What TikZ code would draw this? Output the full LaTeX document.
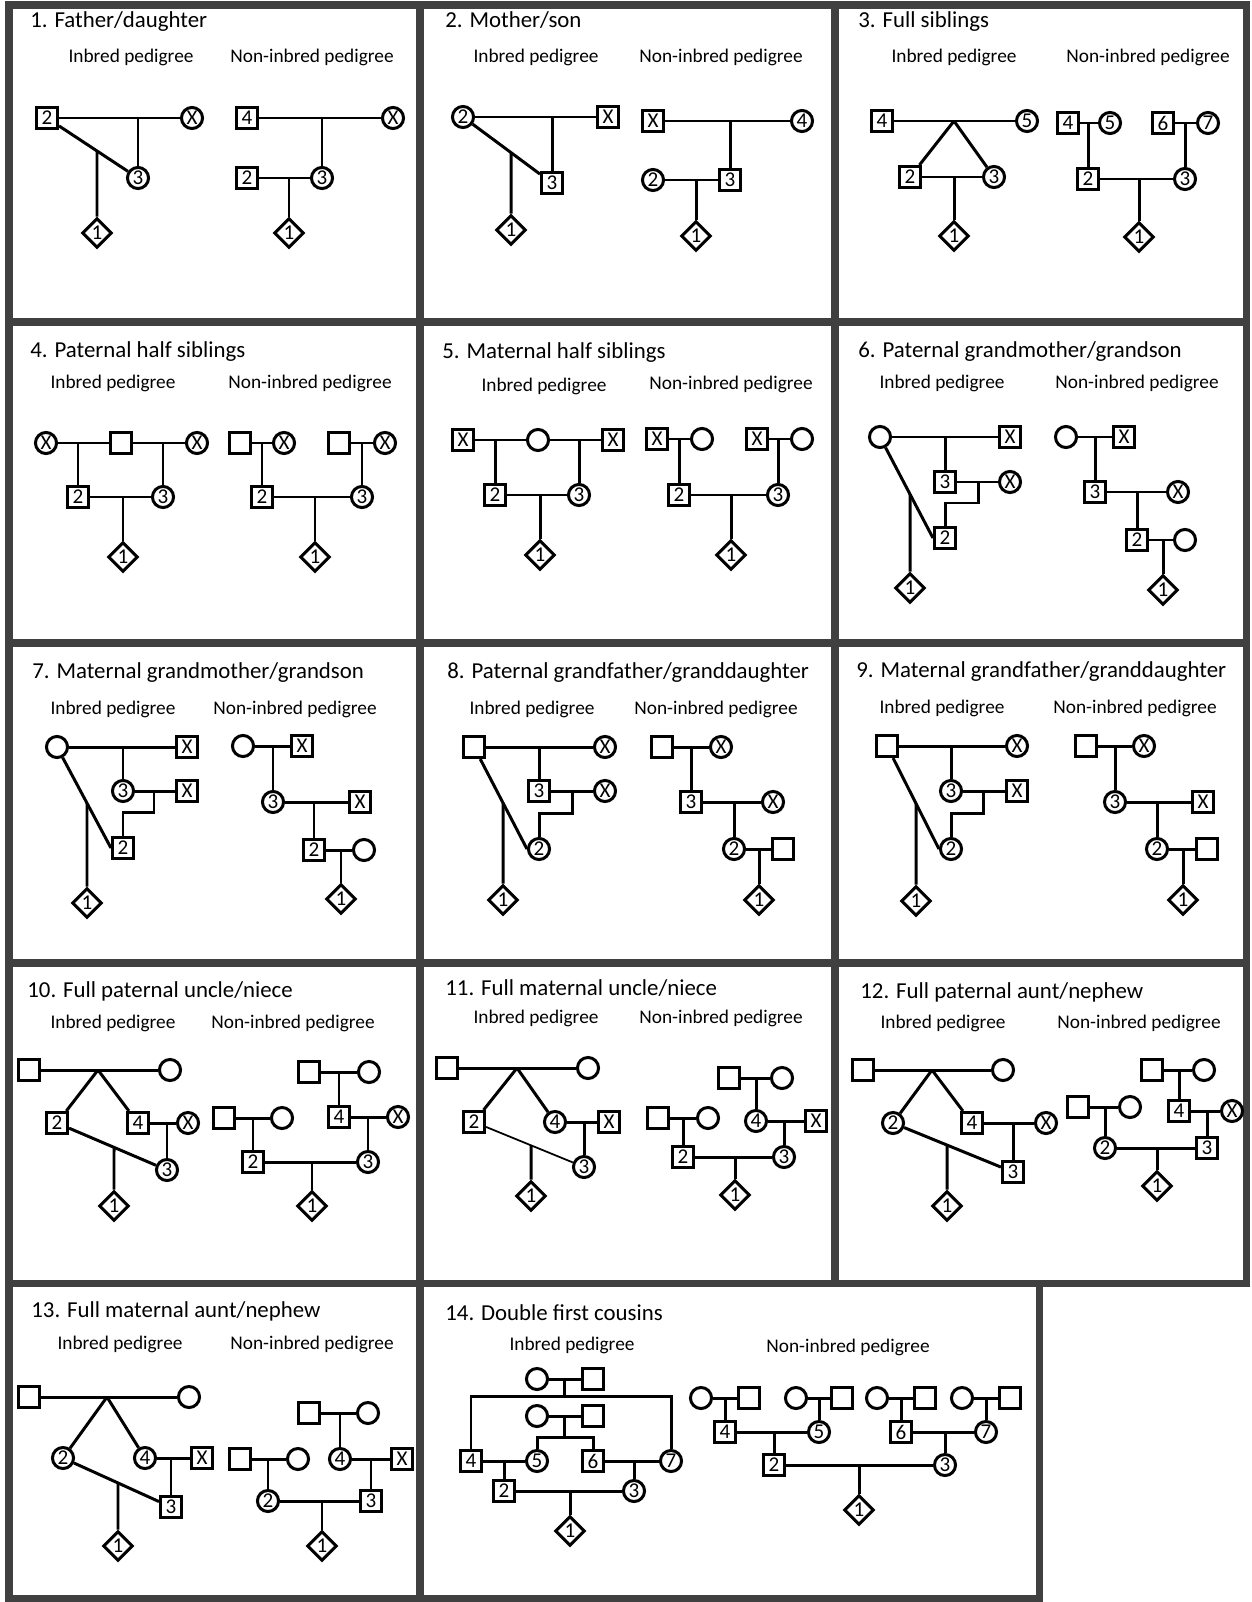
\documentclass[tikz,border=0pt]{standalone}
\usepackage{fontspec}
\setmainfont{Carlito}
\usetikzlibrary{shapes.geometric}
\tikzset{
  ind/.style={draw, line width=1.7pt, inner sep=0pt, minimum size=12pt, font=\fontsize{12}{13}\selectfont},
  male/.style={ind, rectangle},
  female/.style={ind, circle},
  proband/.style={ind, diamond, aspect=1, minimum width=17pt, minimum height=17pt},
  link/.style={line width=1.7pt},
  panel/.style={draw=black!75, line width=4pt},
  title/.style={inner sep=0pt, anchor=base west, font=\fontsize{13}{15}\selectfont},
  sub/.style={inner sep=0pt, anchor=base, font=\fontsize{11}{13}\selectfont},
}
\begin{document}
\begin{tikzpicture}[x=0.02cm, y=-0.02cm]
	\useasboundingbox (0,0) rectangle (1251,1602);
	% Рамки
	\draw[panel] (9,5) rectangle (420,322);
	\draw[panel] (420,5) rectangle (835,322);
	\draw[panel] (835,5) rectangle (1246,322);
	\draw[panel] (9,322) rectangle (420,643);
	\draw[panel] (420,322) rectangle (835,643);
	\draw[panel] (835,322) rectangle (1246,643);
	\draw[panel] (9,643) rectangle (420,963);
	\draw[panel] (420,643) rectangle (835,963);
	\draw[panel] (835,643) rectangle (1246,963);
	\draw[panel] (9,963) rectangle (420,1283);
	\draw[panel] (420,963) rectangle (835,1283);
	\draw[panel] (835,963) rectangle (1246,1283);
	\draw[panel] (9,1283) rectangle (420,1598);
	\draw[panel] (420,1283) rectangle (1039,1598);
	
	% 1
	\node[title] (t1) at (30,28) {1. Father/daughter};
	\node[sub] (s1a) at (131,63) {Inbred pedigree};
	\node[sub] (s1b) at (312,63) {Non-inbred pedigree};
	\node[male] (p1a2) at (47,118) {2};
	\node[female] (p1ax) at (192,118) {X};
	\node[female] (p1a3) at (138,178) {3};
	\node[proband] (p1a1) at (97,233) {1};
	\coordinate (p1am) at (138,118);
	\coordinate (p1aj) at (intersection of p1a2--p1a3 and 97,0--97,1);
	\draw[link] (p1a2) -- (p1ax);
	\draw[link] (p1am) -- (p1a3);
	\draw[link] (p1a2) -- (p1a3);
	\draw[link] (p1aj) -- (p1a1);
	\node[male] (p1b4) at (247,118) {4};
	\node[female] (p1bx) at (393,118) {X};
	\node[female] (p1b3) at (322,178) {3};
	\node[male] (p1b2) at (247,178) {2};
	\node[proband] (p1b1) at (289,233) {1};
	\coordinate (p1bm1) at (322,118);
	\coordinate (p1bm2) at (289,178);
	\draw[link] (p1b4) -- (p1bx);
	\draw[link] (p1bm1) -- (p1b3);
	\draw[link] (p1b2) -- (p1b3);
	\draw[link] (p1bm2) -- (p1b1);
	
	% 2
	\node[title] (t2) at (445,28) {2. Mother/son};
	\node[sub] (s2a) at (536,63) {Inbred pedigree};
	\node[sub] (s2b) at (721,63) {Non-inbred pedigree};
	\node[female] (p2a2) at (463,117) {2};
	\node[male] (p2ax) at (608,117) {X};
	\node[male] (p2a3) at (552,183) {3};
	\node[proband] (p2a1) at (511,230) {1};
	\coordinate (p2am) at (552,117);
	\coordinate (p2aj) at (intersection of p2a2--p2a3 and 511,0--511,1);
	\draw[link] (p2a2) -- (p2ax);
	\draw[link] (p2am) -- (p2a3);
	\draw[link] (p2a2) -- (p2a3);
	\draw[link] (p2aj) -- (p2a1);
	\node[male] (p2bx) at (653,121) {X};
	\node[female] (p2b4) at (802,121) {4};
	\node[male] (p2b3) at (730,180) {3};
	\node[female] (p2b2) at (653,180) {2};
	\node[proband] (p2b1) at (696,236) {1};
	\coordinate (p2bm1) at (730,121);
	\coordinate (p2bm2) at (696,180);
	\draw[link] (p2bx) -- (p2b4);
	\draw[link] (p2bm1) -- (p2b3);
	\draw[link] (p2b2) -- (p2b3);
	\draw[link] (p2bm2) -- (p2b1);
	
	% 3
	\node[title] (t3) at (858,28) {3. Full siblings};
	\node[sub] (s3a) at (954,63) {Inbred pedigree};
	\node[sub] (s3b) at (1148,63) {Non-inbred pedigree};
	\node[male] (p3a4) at (882,121) {4};
	\node[female] (p3a5) at (1027,121) {5};
	\node[male] (p3a2) at (910,177) {2};
	\node[female] (p3a3) at (994,177) {3};
	\node[proband] (p3a1) at (954,236) {1};
	\coordinate (p3am1) at (954,121);
	\coordinate (p3am2) at (954,177);
	\draw[link] (p3a4) -- (p3a5);
	\draw[link] (p3am1) -- (p3a2);
	\draw[link] (p3am1) -- (p3a3);
	\draw[link] (p3a2) -- (p3a3);
	\draw[link] (p3am2) -- (p3a1);
	\node[male] (p3b4) at (1068,123) {4};
	\node[female] (p3b5) at (1110,123) {5};
	\node[male] (p3b6) at (1163,123) {6};
	\node[female] (p3b7) at (1208,123) {7};
	\node[male] (p3b2) at (1088,179) {2};
	\node[female] (p3b3) at (1185,179) {3};
	\node[proband] (p3b1) at (1139,237) {1};
	\coordinate (p3bm1) at (1088,123);
	\coordinate (p3bm2) at (1185,123);
	\coordinate (p3bm3) at (1139,179);
	\draw[link] (p3b4) -- (p3b5);
	\draw[link] (p3b6) -- (p3b7);
	\draw[link] (p3bm1) -- (p3b2);
	\draw[link] (p3bm2) -- (p3b3);
	\draw[link] (p3b2) -- (p3b3);
	\draw[link] (p3bm3) -- (p3b1);
	
	% 4
	\node[title] (t4) at (30,357) {4. Paternal half siblings};
	\node[sub] (s4a) at (113,388) {Inbred pedigree};
	\node[sub] (s4b) at (310,388) {Non-inbred pedigree};
	\node[female] (p4ax1) at (46,443) {X};
	\node[male] (p4ap) at (121,443) {};
	\node[female] (p4ax2) at (197,443) {X};
	\node[male] (p4a2) at (78,497) {2};
	\node[female] (p4a3) at (163,497) {3};
	\node[proband] (p4a1) at (123,557) {1};
	\coordinate (p4am1) at (78,443);
	\coordinate (p4am2) at (163,443);
	\coordinate (p4am3) at (123,497);
	\draw[link] (p4ax1) -- (p4ap);
	\draw[link] (p4ap) -- (p4ax2);
	\draw[link] (p4am1) -- (p4a2);
	\draw[link] (p4am2) -- (p4a3);
	\draw[link] (p4a2) -- (p4a3);
	\draw[link] (p4am3) -- (p4a1);
	\node[male] (p4bp1) at (240,443) {};
	\node[female] (p4bx1) at (284,443) {X};
	\node[male] (p4bp2) at (339,443) {};
	\node[female] (p4bx2) at (385,443) {X};
	\node[male] (p4b2) at (262,497) {2};
	\node[female] (p4b3) at (362,497) {3};
	\node[proband] (p4b1) at (315,557) {1};
	\coordinate (p4bm1) at (262,443);
	\coordinate (p4bm2) at (362,443);
	\coordinate (p4bm3) at (315,497);
	\draw[link] (p4bp1) -- (p4bx1);
	\draw[link] (p4bp2) -- (p4bx2);
	\draw[link] (p4bm1) -- (p4b2);
	\draw[link] (p4bm2) -- (p4b3);
	\draw[link] (p4b2) -- (p4b3);
	\draw[link] (p4bm3) -- (p4b1);
	
	% 5
	\node[title] (t5) at (442,358) {5. Maternal half siblings};
	\node[sub] (s5a) at (544,391) {Inbred pedigree};
	\node[sub] (s5b) at (731,389) {Non-inbred pedigree};
	\node[male] (p5ax1) at (463,440) {X};
	\node[female] (p5ap) at (538,440) {};
	\node[male] (p5ax2) at (613,440) {X};
	\node[male] (p5a2) at (495,495) {2};
	\node[female] (p5a3) at (579,495) {3};
	\node[proband] (p5a1) at (540,555) {1};
	\coordinate (p5am1) at (495,440);
	\coordinate (p5am2) at (579,440);
	\coordinate (p5am3) at (540,495);
	\draw[link] (p5ax1) -- (p5ap);
	\draw[link] (p5ap) -- (p5ax2);
	\draw[link] (p5am1) -- (p5a2);
	\draw[link] (p5am2) -- (p5a3);
	\draw[link] (p5a2) -- (p5a3);
	\draw[link] (p5am3) -- (p5a1);
	\node[male] (p5bx1) at (657,439) {X};
	\node[female] (p5bp1) at (702,439) {};
	\node[male] (p5bx2) at (757,439) {X};
	\node[female] (p5bp2) at (802,439) {};
	\node[male] (p5b2) at (679,495) {2};
	\node[female] (p5b3) at (778,495) {3};
	\node[proband] (p5b1) at (731,555) {1};
	\coordinate (p5bm1) at (679,439);
	\coordinate (p5bm2) at (778,439);
	\coordinate (p5bm3) at (731,495);
	\draw[link] (p5bx1) -- (p5bp1);
	\draw[link] (p5bx2) -- (p5bp2);
	\draw[link] (p5bm1) -- (p5b2);
	\draw[link] (p5bm2) -- (p5b3);
	\draw[link] (p5b2) -- (p5b3);
	\draw[link] (p5bm3) -- (p5b1);
	
	% 6
	\node[title] (t6) at (858,357) {6. Paternal grandmother/grandson};
	\node[sub] (s6a) at (942,388) {Inbred pedigree};
	\node[sub] (s6b) at (1137,388) {Non-inbred pedigree};
	\node[female] (p6ap) at (880,437) {};
	\node[male] (p6ax1) at (1010,437) {X};
	\node[male] (p6a3) at (945,482) {3};
	\node[female] (p6ax2) at (1010,482) {X};
	\node[male] (p6a2) at (945,538) {2};
	\node[proband] (p6a1) at (910,588) {1};
	\coordinate (p6am1) at (945,437);
	\coordinate (p6am2) at (978,482);
	\coordinate (p6aj) at (intersection of p6ap--p6a2.west and 910,0--910,1);
	\draw[link] (p6ap) -- (p6ax1);
	\draw[link] (p6am1) -- (p6a3);
	\draw[link] (p6a3) -- (p6ax2);
	\draw[link] (p6am2) -- ++(0,21) -| (p6a2);
	\draw[link] (p6ap) -- (p6a2.west);
	\draw[link] (p6aj) -- (p6a1);
	\node[female] (p6bp1) at (1066,437) {};
	\node[male] (p6bx1) at (1124,437) {X};
	\node[male] (p6b3) at (1095,492) {3};
	\node[female] (p6bx2) at (1178,492) {X};
	\node[male] (p6b2) at (1137,540) {2};
	\node[female] (p6bp2) at (1185,540) {};
	\node[proband] (p6b1) at (1163,590) {1};
	\coordinate (p6bm1) at (1095,437);
	\coordinate (p6bm2) at (1137,492);
	\coordinate (p6bm3) at (1163,540);
	\draw[link] (p6bp1) -- (p6bx1);
	\draw[link] (p6bm1) -- (p6b3);
	\draw[link] (p6b3) -- (p6bx2);
	\draw[link] (p6bm2) -- (p6b2);
	\draw[link] (p6b2) -- (p6bp2);
	\draw[link] (p6bm3) -- (p6b1);
	
	% 7
	\node[title] (t7) at (32,678) {7. Maternal grandmother/grandson};
	\node[sub] (s7a) at (113,714) {Inbred pedigree};
	\node[sub] (s7b) at (295,714) {Non-inbred pedigree};
	\node[female] (p7ap) at (57,747) {};
	\node[male] (p7ax1) at (187,747) {X};
	\node[female] (p7a3) at (123,791) {3};
	\node[male] (p7ax2) at (187,791) {X};
	\node[male] (p7a2) at (123,848) {2};
	\node[proband] (p7a1) at (87,903) {1};
	\coordinate (p7am1) at (123,747);
	\coordinate (p7am2) at (154,791);
	\coordinate (p7aj) at (intersection of p7ap--p7a2.west and 87,0--87,1);
	\draw[link] (p7ap) -- (p7ax1);
	\draw[link] (p7am1) -- (p7a3);
	\draw[link] (p7a3) -- (p7ax2);
	\draw[link] (p7am2) -- ++(0,21) -| (p7a2);
	\draw[link] (p7ap) -- (p7a2.west);
	\draw[link] (p7aj) -- (p7a1);
	\node[female] (p7bp1) at (243,746) {};
	\node[male] (p7bx1) at (302,746) {X};
	\node[female] (p7b3) at (273,802) {3};
	\node[male] (p7bx2) at (360,802) {X};
	\node[male] (p7b2) at (314,850) {2};
	\node[female] (p7bp2) at (364,850) {};
	\node[proband] (p7b1) at (341,899) {1};
	\coordinate (p7bm1) at (273,746);
	\coordinate (p7bm2) at (314,802);
	\coordinate (p7bm3) at (341,850);
	\draw[link] (p7bp1) -- (p7bx1);
	\draw[link] (p7bm1) -- (p7b3);
	\draw[link] (p7b3) -- (p7bx2);
	\draw[link] (p7bm2) -- (p7b2);
	\draw[link] (p7b2) -- (p7bp2);
	\draw[link] (p7bm3) -- (p7b1);
	
	% 8
	\node[title] (t8) at (447,678) {8. Paternal grandfather/granddaughter};
	\node[sub] (s8a) at (532,714) {Inbred pedigree};
	\node[sub] (s8b) at (716,714) {Non-inbred pedigree};
	\node[male] (p8ap) at (474,747) {};
	\node[female] (p8ax1) at (605,747) {X};
	\node[male] (p8a3) at (539,791) {3};
	\node[female] (p8ax2) at (605,791) {X};
	\node[female] (p8a2) at (539,849) {2};
	\node[proband] (p8a1) at (503,900) {1};
	\coordinate (p8am1) at (539,747);
	\coordinate (p8am2) at (572,791);
	\coordinate (p8aj) at (intersection of p8ap--p8a2.west and 503,0--503,1);
	\draw[link] (p8ap) -- (p8ax1);
	\draw[link] (p8am1) -- (p8a3);
	\draw[link] (p8a3) -- (p8ax2);
	\draw[link] (p8am2) -- ++(0,22) -| (p8a2);
	\draw[link] (p8ap) -- (p8a2.west);
	\draw[link] (p8aj) -- (p8a1);
	\node[male] (p8bp1) at (662,747) {};
	\node[female] (p8bx1) at (721,747) {X};
	\node[male] (p8b3) at (691,802) {3};
	\node[female] (p8bx2) at (773,802) {X};
	\node[female] (p8b2) at (734,849) {2};
	\node[male] (p8bp2) at (783,849) {};
	\node[proband] (p8b1) at (759,900) {1};
	\coordinate (p8bm1) at (691,747);
	\coordinate (p8bm2) at (734,802);
	\coordinate (p8bm3) at (759,849);
	\draw[link] (p8bp1) -- (p8bx1);
	\draw[link] (p8bm1) -- (p8b3);
	\draw[link] (p8b3) -- (p8bx2);
	\draw[link] (p8bm2) -- (p8b2);
	\draw[link] (p8b2) -- (p8bp2);
	\draw[link] (p8bm3) -- (p8b1);
	
	% 9
	\node[title] (t9) at (856,677) {9. Maternal grandfather/granddaughter};
	\node[sub] (s9a) at (942,713) {Inbred pedigree};
	\node[sub] (s9b) at (1135,713) {Non-inbred pedigree};
	\node[male] (p9ap) at (887,746) {};
	\node[female] (p9ax1) at (1017,746) {X};
	\node[female] (p9a3) at (951,791) {3};
	\node[male] (p9ax2) at (1017,791) {X};
	\node[female] (p9a2) at (951,849) {2};
	\node[proband] (p9a1) at (916,901) {1};
	\coordinate (p9am1) at (951,746);
	\coordinate (p9am2) at (983,791);
	\coordinate (p9aj) at (intersection of p9ap--p9a2.west and 916,0--916,1);
	\draw[link] (p9ap) -- (p9ax1);
	\draw[link] (p9am1) -- (p9a3);
	\draw[link] (p9a3) -- (p9ax2);
	\draw[link] (p9am2) -- ++(0,22) -| (p9a2);
	\draw[link] (p9ap) -- (p9a2.west);
	\draw[link] (p9aj) -- (p9a1);
	\node[male] (p9bp1) at (1086,746) {};
	\node[female] (p9bx1) at (1144,746) {X};
	\node[female] (p9b3) at (1115,802) {3};
	\node[male] (p9bx2) at (1203,802) {X};
	\node[female] (p9b2) at (1157,849) {2};
	\node[male] (p9bp2) at (1207,849) {};
	\node[proband] (p9b1) at (1183,900) {1};
	\coordinate (p9bm1) at (1115,746);
	\coordinate (p9bm2) at (1157,802);
	\coordinate (p9bm3) at (1183,849);
	\draw[link] (p9bp1) -- (p9bx1);
	\draw[link] (p9bm1) -- (p9b3);
	\draw[link] (p9b3) -- (p9bx2);
	\draw[link] (p9bm2) -- (p9b2);
	\draw[link] (p9b2) -- (p9bp2);
	\draw[link] (p9bm3) -- (p9b1);
	
	% 10
	\node[title] (t10) at (27,997) {10. Full paternal uncle/niece};
	\node[sub] (s10a) at (113,1028) {Inbred pedigree};
	\node[sub] (s10b) at (293,1028) {Non-inbred pedigree};
	\node[male] (p10ap1) at (29,1070) {};
	\node[female] (p10ap2) at (170,1070) {};
	\node[male] (p10a2) at (57,1123) {2};
	\node[male] (p10a4) at (138,1123) {4};
	\node[female] (p10ax) at (188,1123) {X};
	\node[female] (p10a3) at (167,1170) {3};
	\node[proband] (p10a1) at (114,1206) {1};
	\coordinate (p10am1) at (98,1070);
	\coordinate (p10am2) at (167,1123);
	\coordinate (p10aj) at (intersection of p10a2--p10a3 and 114,0--114,1);
	\draw[link] (p10ap1) -- (p10ap2);
	\draw[link] (p10am1) -- (p10a2);
	\draw[link] (p10am1) -- (p10a4);
	\draw[link] (p10a4) -- (p10ax);
	\draw[link] (p10am2) -- (p10a3);
	\draw[link] (p10a2) -- (p10a3);
	\draw[link] (p10aj) -- (p10a1);
	\node[male] (p10bp1) at (309,1072) {};
	\node[female] (p10bp2) at (369,1072) {};
	\node[male] (p10b4) at (339,1117) {4};
	\node[female] (p10bx) at (398,1117) {X};
	\node[female] (p10b3) at (368,1162) {3};
	\node[male] (p10bp3) at (224,1118) {};
	\node[female] (p10bp4) at (282,1118) {};
	\node[male] (p10b2) at (253,1162) {2};
	\node[proband] (p10b1) at (312,1206) {1};
	\coordinate (p10bm1) at (339,1072);
	\coordinate (p10bm2) at (368,1117);
	\coordinate (p10bm3) at (253,1118);
	\coordinate (p10bm4) at (312,1162);
	\draw[link] (p10bp1) -- (p10bp2);
	\draw[link] (p10bm1) -- (p10b4);
	\draw[link] (p10b4) -- (p10bx);
	\draw[link] (p10bm2) -- (p10b3);
	\draw[link] (p10bp3) -- (p10bp4);
	\draw[link] (p10bm3) -- (p10b2);
	\draw[link] (p10b2) -- (p10b3);
	\draw[link] (p10bm4) -- (p10b1);
	
	% 11
	\node[title] (t11) at (445,995) {11. Full maternal uncle/niece};
	\node[sub] (s11a) at (536,1023) {Inbred pedigree};
	\node[sub] (s11b) at (721,1023) {Non-inbred pedigree};
	\node[male] (p11ap1) at (447,1068) {};
	\node[female] (p11ap2) at (588,1068) {};
	\node[male] (p11a2) at (474,1122) {2};
	\node[female] (p11a4) at (555,1122) {4};
	\node[male] (p11ax) at (609,1122) {X};
	\node[female] (p11a3) at (584,1167) {3};
	\node[proband] (p11a1) at (531,1196) {1};
	\coordinate (p11am1) at (517,1068);
	\coordinate (p11am2) at (584,1122);
	\coordinate (p11aj) at (intersection of p11a2--p11a3 and 531,0--531,1);
	\draw[link] (p11ap1) -- (p11ap2);
	\draw[link] (p11am1) -- (p11a2);
	\draw[link] (p11am1) -- (p11a4);
	\draw[link] (p11a4) -- (p11ax);
	\draw[link] (p11am2) -- (p11a3);
	\draw[link, line width=1pt] (p11a2) -- (p11a3);
	\draw[link] (p11aj) -- (p11a1);
	\node[male] (p11bp1) at (729,1078) {};
	\node[female] (p11bp2) at (782,1078) {};
	\node[female] (p11b4) at (756,1121) {4};
	\node[male] (p11bx) at (816,1121) {X};
	\node[female] (p11b3) at (784,1157) {3};
	\node[male] (p11bp3) at (658,1118) {};
	\node[female] (p11bp4) at (708,1118) {};
	\node[male] (p11b2) at (683,1157) {2};
	\node[proband] (p11b1) at (735,1195) {1};
	\coordinate (p11bm1) at (756,1078);
	\coordinate (p11bm2) at (784,1121);
	\coordinate (p11bm3) at (683,1118);
	\coordinate (p11bm4) at (735,1157);
	\draw[link] (p11bp1) -- (p11bp2);
	\draw[link] (p11bm1) -- (p11b4);
	\draw[link] (p11b4) -- (p11bx);
	\draw[link] (p11bm2) -- (p11b3);
	\draw[link] (p11bp3) -- (p11bp4);
	\draw[link] (p11bm3) -- (p11b2);
	\draw[link] (p11b2) -- (p11b3);
	\draw[link] (p11bm4) -- (p11b1);
	
	% 12
	\node[title] (t12) at (860,998) {12. Full paternal aunt/nephew};
	\node[sub] (s12a) at (943,1028) {Inbred pedigree};
	\node[sub] (s12b) at (1139,1028) {Non-inbred pedigree};
	\node[male] (p12ap1) at (863,1070) {};
	\node[female] (p12ap2) at (1003,1070) {};
	\node[female] (p12a2) at (893,1123) {2};
	\node[male] (p12a4) at (972,1123) {4};
	\node[female] (p12ax) at (1046,1123) {X};
	\node[male] (p12a3) at (1013,1172) {3};
	\node[proband] (p12a1) at (947,1206) {1};
	\coordinate (p12am1) at (932,1070);
	\coordinate (p12am2) at (1013,1123);
	\coordinate (p12aj) at (intersection of p12a2--p12a3 and 947,0--947,1);
	\draw[link] (p12ap1) -- (p12ap2);
	\draw[link] (p12am1) -- (p12a2);
	\draw[link] (p12am1) -- (p12a4);
	\draw[link] (p12a4) -- (p12ax);
	\draw[link] (p12am2) -- (p12a3);
	\draw[link] (p12a2) -- (p12a3);
	\draw[link] (p12aj) -- (p12a1);
	\node[male] (p12bp1) at (1152,1070) {};
	\node[female] (p12bp2) at (1204,1070) {};
	\node[male] (p12b4) at (1179,1111) {4};
	\node[female] (p12bx) at (1232,1111) {X};
	\node[male] (p12b3) at (1207,1148) {3};
	\node[male] (p12bp3) at (1078,1107) {};
	\node[female] (p12bp4) at (1130,1107) {};
	\node[female] (p12b2) at (1105,1148) {2};
	\node[proband] (p12b1) at (1157,1186) {1};
	\coordinate (p12bm1) at (1179,1070);
	\coordinate (p12bm2) at (1207,1111);
	\coordinate (p12bm3) at (1105,1107);
	\coordinate (p12bm4) at (1157,1148);
	\draw[link] (p12bp1) -- (p12bp2);
	\draw[link] (p12bm1) -- (p12b4);
	\draw[link] (p12b4) -- (p12bx);
	\draw[link] (p12bm2) -- (p12b3);
	\draw[link] (p12bp3) -- (p12bp4);
	\draw[link] (p12bm3) -- (p12b2);
	\draw[link] (p12b2) -- (p12b3);
	\draw[link] (p12bm4) -- (p12b1);
	
	% 13
	\node[title] (t13) at (31,1317) {13. Full maternal aunt/nephew};
	\node[sub] (s13a) at (120,1349) {Inbred pedigree};
	\node[sub] (s13b) at (312,1349) {Non-inbred pedigree};
	\node[male] (p13ap1) at (29,1397) {};
	\node[female] (p13ap2) at (189,1397) {};
	\node[female] (p13a2) at (63,1458) {2};
	\node[female] (p13a4) at (145,1458) {4};
	\node[male] (p13ax) at (202,1458) {X};
	\node[male] (p13a3) at (171,1507) {3};
	\node[proband] (p13a1) at (118,1546) {1};
	\coordinate (p13am1) at (107,1397);
	\coordinate (p13am2) at (171,1458);
	\coordinate (p13aj) at (intersection of p13a2--p13a3 and 118,0--118,1);
	\draw[link] (p13ap1) -- (p13ap2);
	\draw[link] (p13am1) -- (p13a2);
	\draw[link] (p13am1) -- (p13a4);
	\draw[link] (p13a4) -- (p13ax);
	\draw[link] (p13am2) -- (p13a3);
	\draw[link] (p13a2) -- (p13a3);
	\draw[link] (p13aj) -- (p13a1);
	\node[male] (p13bp1) at (309,1413) {};
	\node[female] (p13bp2) at (368,1413) {};
	\node[female] (p13b4) at (340,1459) {4};
	\node[male] (p13bx) at (402,1459) {X};
	\node[male] (p13b3) at (371,1501) {3};
	\node[male] (p13bp3) at (240,1459) {};
	\node[female] (p13bp4) at (298,1459) {};
	\node[female] (p13b2) at (268,1501) {2};
	\node[proband] (p13b1) at (322,1546) {1};
	\coordinate (p13bm1) at (340,1413);
	\coordinate (p13bm2) at (371,1459);
	\coordinate (p13bm3) at (268,1459);
	\coordinate (p13bm4) at (322,1501);
	\draw[link] (p13bp1) -- (p13bp2);
	\draw[link] (p13bm1) -- (p13b4);
	\draw[link] (p13b4) -- (p13bx);
	\draw[link] (p13bm2) -- (p13b3);
	\draw[link] (p13bp3) -- (p13bp4);
	\draw[link] (p13bm3) -- (p13b2);
	\draw[link] (p13b2) -- (p13b3);
	\draw[link] (p13bm4) -- (p13b1);
	
	% 14
	\node[title] (t14) at (445,1320) {14. Double first cousins};
	\node[sub] (s14a) at (572,1350) {Inbred pedigree};
	\node[sub] (s14b) at (848,1352) {Non-inbred pedigree};
	\node[female] (p14ap1) at (537,1379) {};
	\node[male] (p14ap2) at (593,1379) {};
	\node[female] (p14ap3) at (537,1416) {};
	\node[male] (p14ap4) at (593,1416) {};
	\node[male] (p14a4) at (471,1461) {4};
	\node[female] (p14a5) at (537,1461) {5};
	\node[male] (p14a6) at (593,1461) {6};
	\node[female] (p14a7) at (671,1461) {7};
	\node[male] (p14a2) at (504,1491) {2};
	\node[female] (p14a3) at (634,1491) {3};
	\node[proband] (p14a1) at (570,1531) {1};
	\coordinate (p14am1) at (564,1379);
	\coordinate (p14ab1) at (564,1396);
	\coordinate (p14am2) at (564,1416);
	\coordinate (p14ab2) at (564,1437);
	\coordinate (p14am3) at (504,1461);
	\coordinate (p14am4) at (634,1461);
	\coordinate (p14am5) at (570,1491);
	\draw[link] (p14ap1) -- (p14ap2);
	\draw[link] (p14am1) -- (p14ab1);
	\draw[link] (p14a4) |- (p14ab1) -| (p14a7);
	\draw[link] (p14ap3) -- (p14ap4);
	\draw[link] (p14am2) -- (p14ab2);
	\draw[link] (p14a5) |- (p14ab2) -| (p14a6);
	\draw[link] (p14a4) -- (p14a5);
	\draw[link] (p14a6) -- (p14a7);
	\draw[link] (p14am3) -- (p14a2);
	\draw[link] (p14am4) -- (p14a3);
	\draw[link] (p14a2) -- (p14a3);
	\draw[link] (p14am5) -- (p14a1);
	\node[female] (p14bp1) at (701,1398) {};
	\node[male] (p14bp2) at (749,1398) {};
	\node[female] (p14bp3) at (796,1398) {};
	\node[male] (p14bp4) at (842,1398) {};
	\node[female] (p14bp5) at (877,1398) {};
	\node[male] (p14bp6) at (925,1398) {};
	\node[female] (p14bp7) at (962,1398) {};
	\node[male] (p14bp8) at (1010,1398) {};
	\node[male] (p14b4) at (725,1432) {4};
	\node[female] (p14b5) at (819,1432) {5};
	\node[male] (p14b6) at (901,1432) {6};
	\node[female] (p14b7) at (986,1432) {7};
	\node[male] (p14b2) at (774,1465) {2};
	\node[female] (p14b3) at (945,1465) {3};
	\node[proband] (p14b1) at (859,1510) {1};
	\coordinate (p14bm1) at (725,1398);
	\coordinate (p14bm2) at (819,1398);
	\coordinate (p14bm3) at (901,1398);
	\coordinate (p14bm4) at (986,1398);
	\coordinate (p14bm5) at (774,1432);
	\coordinate (p14bm6) at (945,1432);
	\coordinate (p14bm7) at (859,1465);
	\draw[link] (p14bp1) -- (p14bp2);
	\draw[link] (p14bp3) -- (p14bp4);
	\draw[link] (p14bp5) -- (p14bp6);
	\draw[link] (p14bp7) -- (p14bp8);
	\draw[link] (p14bm1) -- (p14b4);
	\draw[link] (p14bm2) -- (p14b5);
	\draw[link] (p14bm3) -- (p14b6);
	\draw[link] (p14bm4) -- (p14b7);
	\draw[link] (p14b4) -- (p14b5);
	\draw[link] (p14b6) -- (p14b7);
	\draw[link] (p14bm5) -- (p14b2);
	\draw[link] (p14bm6) -- (p14b3);
	\draw[link] (p14b2) -- (p14b3);
	\draw[link] (p14bm7) -- (p14b1);
\end{tikzpicture}
\end{document}
